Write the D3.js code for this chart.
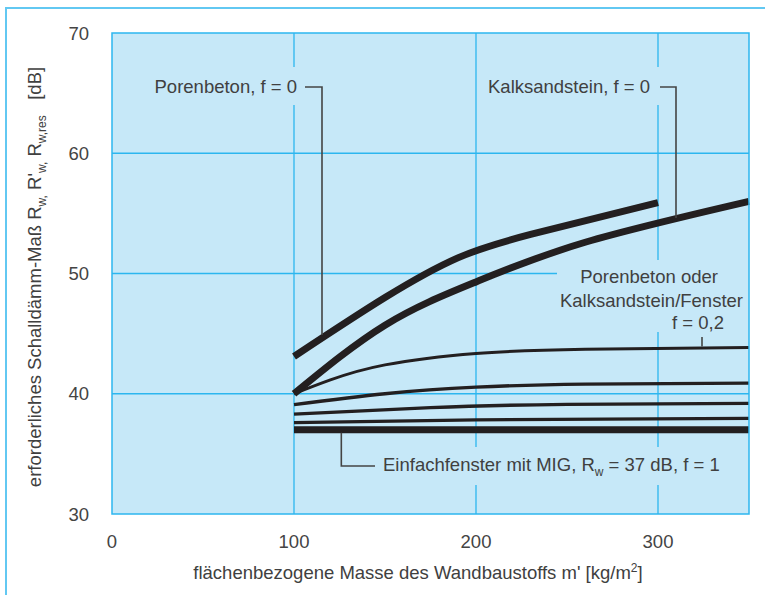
<!DOCTYPE html>
<html><head><meta charset="utf-8">
<script src="https://cdn.jsdelivr.net/npm/d3@7"></script>
<style>
html,body{margin:0;padding:0;background:#fff;}
svg{display:block;font-family:"Liberation Sans",Arial,sans-serif;}
</style></head>
<body><svg id="c" width="765" height="595"></svg>
<script>
// ---- data ----
const xTicks = [0, 100, 200, 300];
const yTicks = [30, 40, 50, 60, 70];

const massPorenbetonF0 = [100, 150, 190, 230, 300];
const rPorenbetonF0    = [43.1, 48.0, 51.3, 53.25, 55.9];

const massKalksandsteinF0 = [100, 150, 200, 260, 350];
const rKalksandsteinF0    = [40.0, 45.7, 49.3, 52.6, 56.0];

const massF02 = [100, 120, 150, 200, 260, 350];
const rF02    = [40.0, 41.15, 42.4, 43.35, 43.7, 43.85];

const massMid1 = [100, 150, 200, 260, 350];
const rMid1    = [39.1, 40.0, 40.55, 40.8, 40.88];

const massMid2 = [100, 175, 250, 350];
const rMid2    = [38.3, 38.85, 39.12, 39.2];

const massMid3 = [100, 200, 350];
const rMid3    = [37.6, 37.83, 37.95];

const massFenster = [100, 350];
const rFenster    = [37, 37];

// ---- layout ----
const svg = d3.select("#c");
const x = d3.scaleLinear().domain([0, 350]).range([112, 749]);
const y = d3.scaleLinear().domain([30, 70]).range([514, 33]);

const BG = "#c6e8f8", GRID = "#2cb6ef", TXT = "#404040";

// outer frame
svg.append("path").attr("d", "M6,595 V8 H765").attr("fill", "none")
  .attr("stroke", "#62c8f2").attr("stroke-width", 2);

// plot background
svg.append("rect").attr("x", x(0)).attr("y", y(70))
  .attr("width", x(350) - x(0)).attr("height", y(30) - y(70)).attr("fill", BG);

// gridlines
const g = svg.append("g").attr("stroke", GRID).attr("stroke-width", 1.3);
[100, 200, 300].forEach(v => g.append("line").attr("x1", x(v)).attr("x2", x(v)).attr("y1", y(70)).attr("y2", y(30)));
[40, 60].forEach(v => g.append("line").attr("y1", y(v)).attr("y2", y(v)).attr("x1", x(0)).attr("x2", x(350)));
g.append("line").attr("y1", y(50)).attr("y2", y(50)).attr("x1", x(0)).attr("x2", 557);

// knockouts behind labels (gaps in gridlines)
const ko = [[150, 67, 152, 38], [485, 67, 176, 38], [558, 260, 190, 72], [378, 447, 342, 38]];
ko.forEach(r => svg.append("rect").attr("x", r[0]).attr("y", r[1]).attr("width", r[2]).attr("height", r[3]).attr("fill", BG));

// curves
const line = d3.line().x(d => x(d[0])).y(d => y(d[1])).curve(d3.curveNatural);
const series = [
  [massPorenbetonF0, rPorenbetonF0, 7],
  [massKalksandsteinF0, rKalksandsteinF0, 7],
  [massF02, rF02, 3],
  [massMid1, rMid1, 3.3],
  [massMid2, rMid2, 3.3],
  [massMid3, rMid3, 3.3],
  [massFenster, rFenster, 7]
];
series.forEach(s => {
  svg.append("path").datum(d3.zip(s[0], s[1])).attr("d", line)
    .attr("fill", "none").attr("stroke", "#231f20").attr("stroke-width", s[2]).attr("stroke-linecap", "butt");
});

// leader lines
const ld = svg.append("g").attr("fill", "none").attr("stroke", "#444").attr("stroke-width", 1.6);
ld.append("path").attr("d", `M305,87 H322 V335`);
ld.append("path").attr("d", `M660,87 H676 V218`);
ld.append("path").attr("d", `M702,337 V${y(43.85) - 1}`);
ld.append("path").attr("d", `M${x(126)},${y(37) + 3} V466 H375`);

// border
svg.append("rect").attr("x", x(0)).attr("y", y(70))
  .attr("width", x(350) - x(0)).attr("height", y(30) - y(70))
  .attr("fill", "none").attr("stroke", GRID).attr("stroke-width", 1.5);

// ticks
const tx = svg.append("g").attr("font-size", 18.5).attr("fill", "#444");
yTicks.forEach(v => tx.append("text").attr("x", 89).attr("y", y(v) + 6.5).attr("text-anchor", "end").text(v));
xTicks.forEach(v => tx.append("text").attr("x", x(v)).attr("y", 548).attr("text-anchor", "middle").text(v));

// labels
const lb = svg.append("g").attr("font-size", 18.5).attr("fill", TXT);
lb.append("text").attr("x", 297).attr("y", 93).attr("text-anchor", "end").text("Porenbeton, f = 0");
lb.append("text").attr("x", 650).attr("y", 93).attr("text-anchor", "end").text("Kalksandstein, f = 0");
lb.append("text").attr("x", 718).attr("y", 283).attr("text-anchor", "end").text("Porenbeton oder");
lb.append("text").attr("x", 743).attr("y", 307).attr("text-anchor", "end").text("Kalksandstein/Fenster");
lb.append("text").attr("x", 724).attr("y", 329).attr("text-anchor", "end").text("f = 0,2");
const ef = lb.append("text").attr("x", 383).attr("y", 471);
ef.append("tspan").text("Einfachfenster mit MIG, R");
ef.append("tspan").attr("font-size", 12).attr("dy", 5).text("w");
ef.append("tspan").attr("dy", -5).text(" = 37 dB, f = 1");

// axis titles
const xt = svg.append("text").attr("x", 418).attr("y", 579).attr("text-anchor", "middle")
  .attr("font-size", 18.5).attr("fill", TXT);
xt.append("tspan").text("flächenbezogene Masse des Wandbaustoffs m' [kg/m");
xt.append("tspan").attr("font-size", 12).attr("dy", -7).text("2");
xt.append("tspan").attr("dy", 7).text("]");

const yt = svg.append("text").attr("transform", "translate(41,277) rotate(-90)")
  .attr("text-anchor", "middle").attr("font-size", 18.5).attr("fill", TXT);
yt.append("tspan").text("erforderliches Schalldämm-Maß R");
yt.append("tspan").attr("font-size", 12).attr("dy", 5).text("w,");
yt.append("tspan").attr("dy", -5).text(" R'");
yt.append("tspan").attr("font-size", 12).attr("dy", 5).text("w,");
yt.append("tspan").attr("dy", -5).text(" R");
yt.append("tspan").attr("font-size", 12).attr("dy", 5).text("w,res");
yt.append("tspan").attr("dy", -5).text("\u00a0\u00a0\u00a0[dB]");
</script></body></html>
